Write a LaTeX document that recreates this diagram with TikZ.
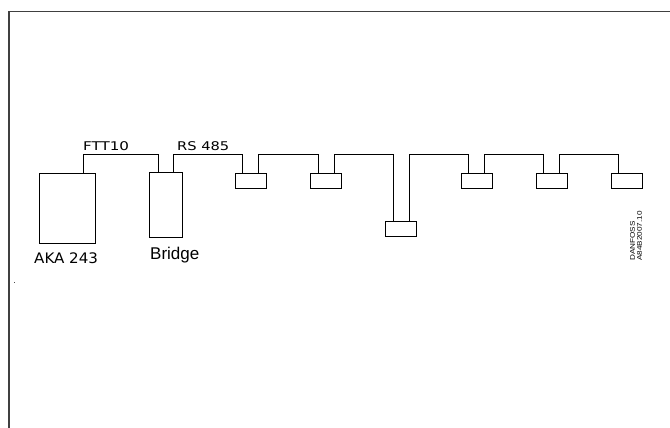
\documentclass[tikz,border=0pt]{standalone}
\usepackage{fontspec}
\setmainfont{Liberation Sans}
\newfontfamily\heavysans{DejaVu Sans}
\begin{document}
\begin{tikzpicture}[x=1pt,y=-1pt,
  frameline/.style={line width=1.7pt, black!75},
  wire/.style={line width=0.9pt, black},
  unitbox/.style={draw, line width=0.9pt, inner sep=0pt},
  devbox/.style={unitbox, minimum width=31pt, minimum height=15pt},
  lbl/.style={inner sep=0pt, anchor=base west}]
\useasboundingbox (0,0) rectangle (670,428);

% page frame (top and left edges only)
\draw[frameline] (9,430) -- (9,11.5) -- (672,11.5);
\fill[black!70] (13.5,281.5) rectangle (15,282.5);

% controller and bridge
\node[unitbox, minimum width=56pt, minimum height=70pt] (aka) at (67,208) {};
\node[unitbox, minimum width=33pt, minimum height=65pt] (bridge) at (165.5,204.5) {};

% bus devices
\node[devbox] (d1) at (250.5,180.5) {};
\node[devbox] (d2) at (326,180.5) {};
\node[devbox] (d3) at (401,228.5) {};
\node[devbox] (d4) at (476.5,180.5) {};
\node[devbox] (d5) at (551.5,180.5) {};
\node[devbox] (d6) at (626.5,180.5) {};

\coordinate (bus) at (0,154.5);

% FTT10 link
\draw[wire] ([xshift=16pt]aka.north) |- ([xshift=-7.5pt]bridge.north |- bus) -- ([xshift=-7.5pt]bridge.north);
% RS 485 chain
\draw[wire] ([xshift=7.5pt]bridge.north) |- ([xshift=-8pt]d1.north |- bus) -- ([xshift=-8pt]d1.north);
\draw[wire] ([xshift=8pt]d1.north) |- ([xshift=-8pt]d2.north |- bus) -- ([xshift=-8pt]d2.north);
\draw[wire] ([xshift=8pt]d2.north) |- ([xshift=-8pt]d3.north |- bus) -- ([xshift=-8pt]d3.north);
\draw[wire] ([xshift=8pt]d3.north) |- ([xshift=-8pt]d4.north |- bus) -- ([xshift=-8pt]d4.north);
\draw[wire] ([xshift=8pt]d4.north) |- ([xshift=-8pt]d5.north |- bus) -- ([xshift=-8pt]d5.north);
\draw[wire] ([xshift=8pt]d5.north) |- ([xshift=-8pt]d6.north |- bus) -- ([xshift=-8pt]d6.north);

% labels
\node[lbl] (ftt) at (83,150.5) {\heavysans\fontsize{12}{14}\selectfont\scalebox{1.26}[1]{FTT10}};
\node[lbl] (rs) at (177,150.5) {\heavysans\fontsize{12}{14}\selectfont\scalebox{1.22}[1]{RS 485}};
\node[lbl] (akalbl) at (34,263) {\heavysans\fontsize{14.5}{17}\selectfont\scalebox{1.04}[1]{AKA 243}};
\node[lbl] (brlbl) at (150,259) {\fontsize{17}{19}\selectfont Bridge};
\node[inner sep=0pt, anchor=north west, rotate=90, align=left,
      font=\fontsize{6.8}{7}\selectfont] (ref) at (630,261)
  {\scalebox{1.2}[1]{DANFOSS}\\\scalebox{1.2}[1]{A84B2007.10}};
\end{tikzpicture}
\end{document}
